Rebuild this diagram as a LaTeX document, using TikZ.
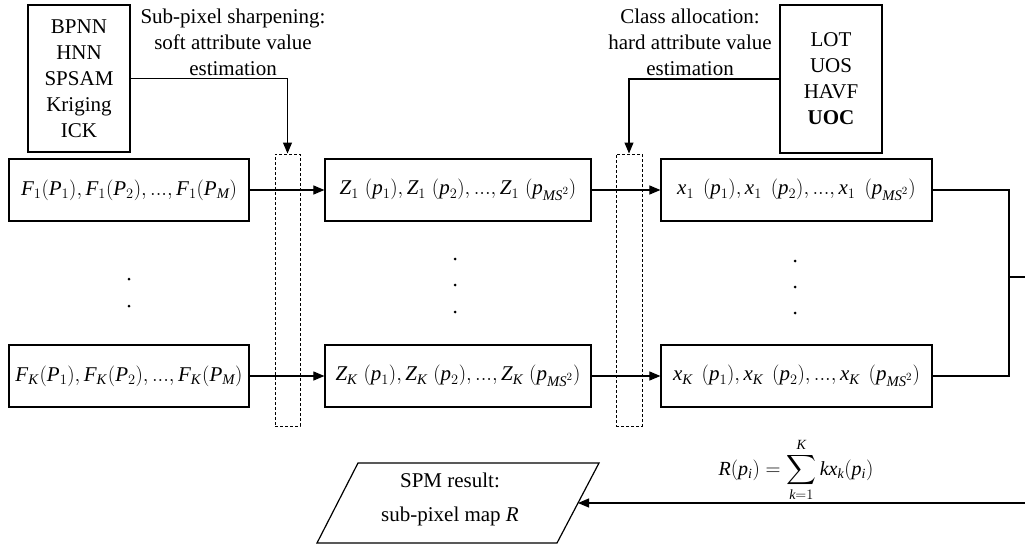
\documentclass[tikz,border=0pt]{standalone}
\usepackage{exscale}
\usepackage{fontspec}
\setmainfont{Liberation Serif}
\usetikzlibrary{arrows.meta}
\newcommand\mv[1]{\mathit{#1}}
\newcommand\gap{\hspace{6pt}}
\newcommand\gapx{\hspace{9pt}}
\begin{document}
\begin{tikzpicture}[x=1pt,y=-1pt,
  box/.style={draw,line width=1.2pt,rectangle,inner sep=0pt,minimum height=62pt,font=\fontsize{21}{24}\selectfont},
  meth/.style={draw,line width=1.2pt,rectangle,inner sep=0pt,minimum width=102pt,align=center,font=\fontsize{21}{26}\selectfont},
  dcol/.style={draw,dashed,dash pattern=on 3pt off 2pt,line width=1pt,rectangle,inner sep=0pt,minimum height=272pt},
  lbl/.style={align=center,font=\fontsize{21}{26}\selectfont,inner sep=0pt},
  arr/.style={line width=1.1pt,-{Triangle[length=11pt,width=9pt]}},
  ln/.style={line width=1.1pt},
  dot/.style={fill,circle,inner sep=0pt,minimum size=3pt}]
\useasboundingbox (0,0) rectangle (1025,546);
% method boxes
\node[meth,minimum height=147pt] (M1) at (79,78.5) {BPNN\\HNN\\SPSAM\\Kriging\\ICK};
\node[meth,minimum height=148pt] (M2) at (831,79) {LOT\\UOS\\HAVF\\\textbf{UOC}};
% labels
\node[lbl] (L1) at (233,42) {Sub-pixel sharpening:\\soft attribute value\\estimation};
\node[lbl] (L2) at (690,42) {Class allocation:\\hard attribute value\\estimation};
% dashed columns
\node[dcol,minimum width=25pt] (D1) at (287.5,290) {};
\node[dcol,minimum width=26pt] (D2) at (629,290) {};
% row boxes
\node[box,minimum width=240pt] (F1) at (129,190) {$\mv{F}_1(\mv{P}_1),\mv{F}_1(\mv{P}_2),...,\mv{F}_1(\mv{P}_{\mv{M}})$};
\node[box,minimum width=240pt] (FK) at (129,376) {$\mv{F}_{\mv{K}}\hspace{1pt}(\mv{P}_1),\mv{F}_{\mv{K}}\hspace{1pt}(\mv{P}_2),...,\mv{F}_{\mv{K}}\hspace{1pt}(\mv{P}_{\mv{M}})$};
\node[box,minimum width=266pt] (Z1) at (458,190) {$\mv{Z}_1\gap(\mv{p}_1),\mv{Z}_1\gap(\mv{p}_2),...,\mv{Z}_1\gap(\mv{p}_{\mv{MS}^2})$};
\node[box,minimum width=266pt] (ZK) at (458,376) {$\mv{Z}_{\mv{K}}\gap(\mv{p}_1),\mv{Z}_{\mv{K}}\gap(\mv{p}_2),...,\mv{Z}_{\mv{K}}\gap(\mv{p}_{\mv{MS}^2})$};
\node[box,minimum width=271pt] (X1) at (796.5,190) {$\mv{x}_1\gapx(\mv{p}_1),\mv{x}_1\gapx(\mv{p}_2),...,\mv{x}_1\gapx(\mv{p}_{\mv{MS}^2})$};
\node[box,minimum width=271pt] (XK) at (796.5,376) {$\mv{x}_{\mv{K}}\gapx(\mv{p}_1),\mv{x}_{\mv{K}}\gapx(\mv{p}_2),...,\mv{x}_{\mv{K}}\gapx(\mv{p}_{\mv{MS}^2})$};
% dots
\node[dot] (a1) at (129,279) {};
\node[dot] (a2) at (129,306) {};
\node[dot] (b1) at (455,259) {};
\node[dot] (b2) at (455,285) {};
\node[dot] (b3) at (455,312) {};
\node[dot] (c1) at (795,261) {};
\node[dot] (c2) at (795,287) {};
\node[dot] (c3) at (795,313) {};
% arrows
\draw[arr] (M1.east) -| (D1.north);
\draw[arr] (M2.west) -| (D2.north);
\draw[arr] (F1.east) -- (Z1.west);
\draw[arr] (FK.east) -- (ZK.west);
\draw[arr] (Z1.east) -- (X1.west);
\draw[arr] (ZK.east) -- (XK.west);
% right bracket
\coordinate (bt) at (1009,190);
\coordinate (bb) at (1009,376);
\coordinate (bm) at (1009,277);
\coordinate (be) at (1025,277);
\draw[ln] (X1.east) -- (bt) -- (bb) -- (XK.east);
\draw[ln] (bm) -- (be);
% result parallelogram
\draw[line width=1.2pt] (358,463) -- (599,463) -- (557,543) -- (317,543) -- cycle;
\node[lbl,align=center,font=\fontsize{21}{34}\selectfont] (R) at (450,499) {SPM result:\\sub-pixel map $\mv{R}$};
\coordinate (pin) at (578,503);
\coordinate (rin) at (1025,503);
\draw[arr] (rin) -- (pin);
\node[inner sep=0pt,font=\fontsize{20}{22}\selectfont] (eq) at (796,470) {$\displaystyle \mv{R}(\mv{p}_{\mv{i}})=\sum_{\mv{k}=1}^{\mv{K}} \mv{kx}_{\mv{k}}(\mv{p}_{\mv{i}})$};
\end{tikzpicture}
\end{document}
